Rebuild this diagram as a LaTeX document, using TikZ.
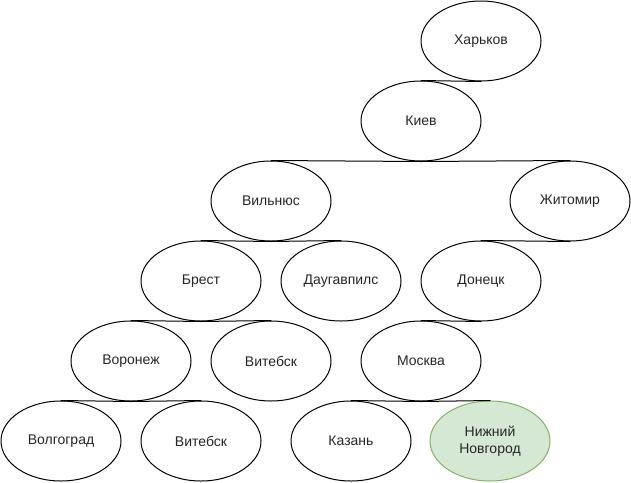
\documentclass[tikz,border=0pt]{standalone}
\usepackage{fontspec}
\setmainfont{Liberation Sans}
\usetikzlibrary{shapes.geometric}

\begin{document}
\begin{tikzpicture}[x=1pt, y=-1pt, line cap=round, line join=round,
    city/.style={ellipse, draw, line width=1pt, minimum width=120pt, minimum height=80pt,
      inner sep=0pt, align=center, font=\fontsize{14}{17}\selectfont, text=black!85},
    goal/.style={city, draw={rgb,255:red,130;green,179;blue,102}, fill={rgb,255:red,213;green,232;blue,212}},
    edge/.style={line width=1pt}]
  \useasboundingbox (0,0) rectangle (631,482);

  % Cities, row by row
  \node[city] (khar) at (481,41) {Харьков};
  \node[city] (kiev) at (421,121) {Киев};
  \node[city] (viln) at (271,201) {Вильнюс};
  \node[city] (zhit) at (570,201) {Житомир};
  \node[city] (brest) at (201,281) {Брест};
  \node[city] (daug) at (341,281) {Даугавпилс};
  \node[city] (don) at (481,281) {Донецк};
  \node[city] (vor) at (131,361) {Воронеж};
  \node[city] (vitA) at (271,361) {Витебск};
  \node[city] (msk) at (421,361) {Москва};
  \node[city] (volg) at (61,441) {Волгоград};
  \node[city] (vitB) at (201,441) {Витебск};
  \node[city] (kaz) at (351,441) {Казань};
  \node[goal] (nn) at (490,441) {Нижний\\Новгород};

  % Tree edges: parent bottom to child top
  \draw[edge] (khar.south) -- (kiev.north);
  \draw[edge] (kiev.south) -- (viln.north);
  \draw[edge] (kiev.south) -- (zhit.north);
  \draw[edge] (viln.south) -- (brest.north);
  \draw[edge] (viln.south) -- (daug.north);
  \draw[edge] (zhit.south) -- (don.north);
  \draw[edge] (brest.south) -- (vor.north);
  \draw[edge] (brest.south) -- (vitA.north);
  \draw[edge] (don.south) -- (msk.north);
  \draw[edge] (vor.south) -- (volg.north);
  \draw[edge] (vor.south) -- (vitB.north);
  \draw[edge] (msk.south) -- (kaz.north);
  \draw[edge] (msk.south) -- (nn.north);
\end{tikzpicture}
\end{document}
